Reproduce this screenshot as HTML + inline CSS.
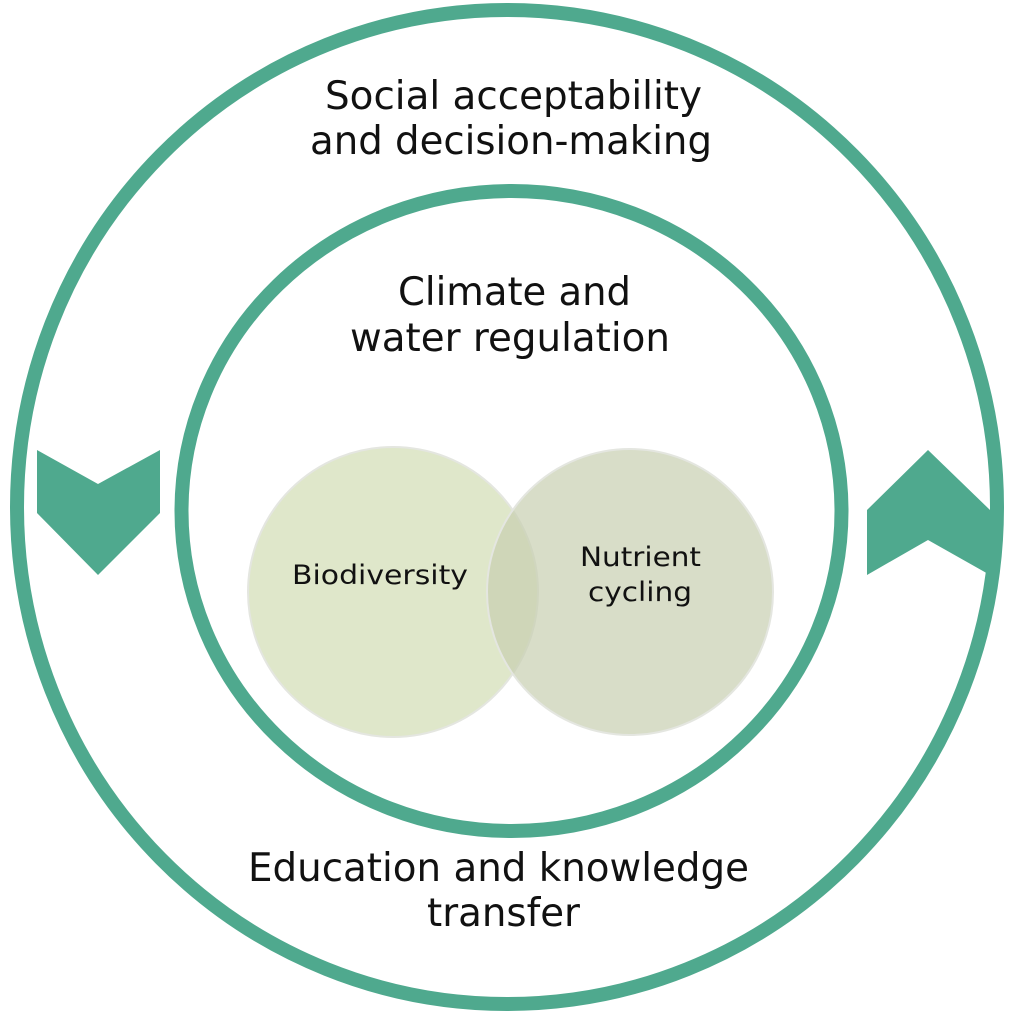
<!DOCTYPE html>
<html><head><style>body{margin:0;background:#fff}svg{display:block}</style></head><body>
<svg width="1024" height="1024" viewBox="0 0 1024 1024" font-family="DejaVu Sans, Liberation Sans, sans-serif">
<ellipse cx="507" cy="507" rx="490" ry="497" fill="none" stroke="#4fa98e" stroke-width="14"/>
<ellipse cx="511.5" cy="511" rx="330" ry="320" fill="none" stroke="#4fa98e" stroke-width="14"/>
<circle cx="393" cy="592" r="145" fill="#dfe7ca" stroke="#e4e6e0" stroke-width="2"/>
<circle cx="630" cy="592" r="143" fill="#c8cfb0" fill-opacity="0.7" stroke="#e4e6e0" stroke-width="2"/>
<polygon points="37,450 98,484 160,450 160,513 98,575 37,513" fill="#4fa98e"/>
<polygon points="867,510 928,450 990,510 990,575 928,540 867,575" fill="#4fa98e"/>
<g font-size="39" fill="#111">
<text x="325" y="109" textLength="377" lengthAdjust="spacingAndGlyphs">Social acceptability</text>
<text x="310" y="154" textLength="402" lengthAdjust="spacingAndGlyphs">and decision-making</text>
<text x="398" y="305" textLength="233" lengthAdjust="spacingAndGlyphs">Climate and</text>
<text x="350" y="351" textLength="320" lengthAdjust="spacingAndGlyphs">water regulation</text>
<text x="248" y="881" textLength="501" lengthAdjust="spacingAndGlyphs">Education and knowledge</text>
<text x="427" y="926" textLength="153" lengthAdjust="spacingAndGlyphs">transfer</text>
</g>
<g font-size="27" fill="#111">
<text x="292" y="584" textLength="176" lengthAdjust="spacingAndGlyphs">Biodiversity</text>
<text x="580" y="566" textLength="121" lengthAdjust="spacingAndGlyphs">Nutrient</text>
<text x="588" y="601" textLength="104" lengthAdjust="spacingAndGlyphs">cycling</text>
</g>
</svg>
</body></html>
